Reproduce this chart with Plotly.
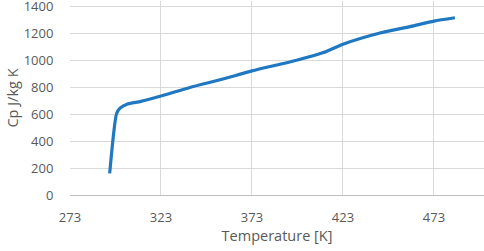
import plotly.graph_objects as go

temperature = [294.8, 298.6, 300.5, 304.3, 312, 322.5, 338.9, 356, 373, 397.5, 412.2, 423, 443.3, 460, 473, 484.5]
cp = [160, 605, 645, 674, 695, 733, 798, 857, 921, 1000, 1057, 1119, 1202, 1250, 1291, 1316]

x_ticks = [273, 323, 373, 423, 473]
y_ticks = [0, 200, 400, 600, 800, 1000, 1200, 1400]

fig = go.Figure()
fig.add_trace(go.Scatter(
    x=temperature, y=cp, mode="lines",
    line=dict(color="#1f78c1", width=3.2, shape="spline", smoothing=0.6),
    showlegend=False, cliponaxis=False, hoverinfo="skip",
))

font = dict(family="Open Sans, Noto Sans, sans-serif", color="#595959", size=13)
fig.update_layout(
    width=484, height=251,
    margin=dict(l=70, r=0, t=1, b=56, autoexpand=False),
    paper_bgcolor="white", plot_bgcolor="white",
    font=font,
    xaxis=dict(
        range=[273, 500.5], tickvals=x_ticks, ticktext=[str(v) for v in x_ticks],
        showgrid=True, gridcolor="#d9d9d9", gridwidth=1,
        showline=True, linecolor="#bfbfbf", linewidth=1,
        zeroline=False, ticks="outside", ticklen=10, tickcolor="rgba(0,0,0,0)",
        automargin=False, ticklabeloverflow="allow",
        title=dict(text="Temperature [K]", font=dict(size=14.5, color="#595959"), standoff=6),
    ),
    yaxis=dict(
        range=[0, 1440], tickvals=y_ticks,
        showgrid=True, gridcolor="#d9d9d9", gridwidth=1,
        zeroline=False, ticks="outside", ticklen=13, tickcolor="rgba(0,0,0,0)",
        showline=False, automargin=False, ticklabeloverflow="allow",
        title=dict(text="Cp J/kg K", font=dict(size=14.5, color="#595959"), standoff=1),
    ),
)
fig.write_html(
    "out.html",
    config={"displayModeBar": False, "staticPlot": True},
    post_script="document.body.style.margin='0';document.body.style.overflow='hidden';",
)
